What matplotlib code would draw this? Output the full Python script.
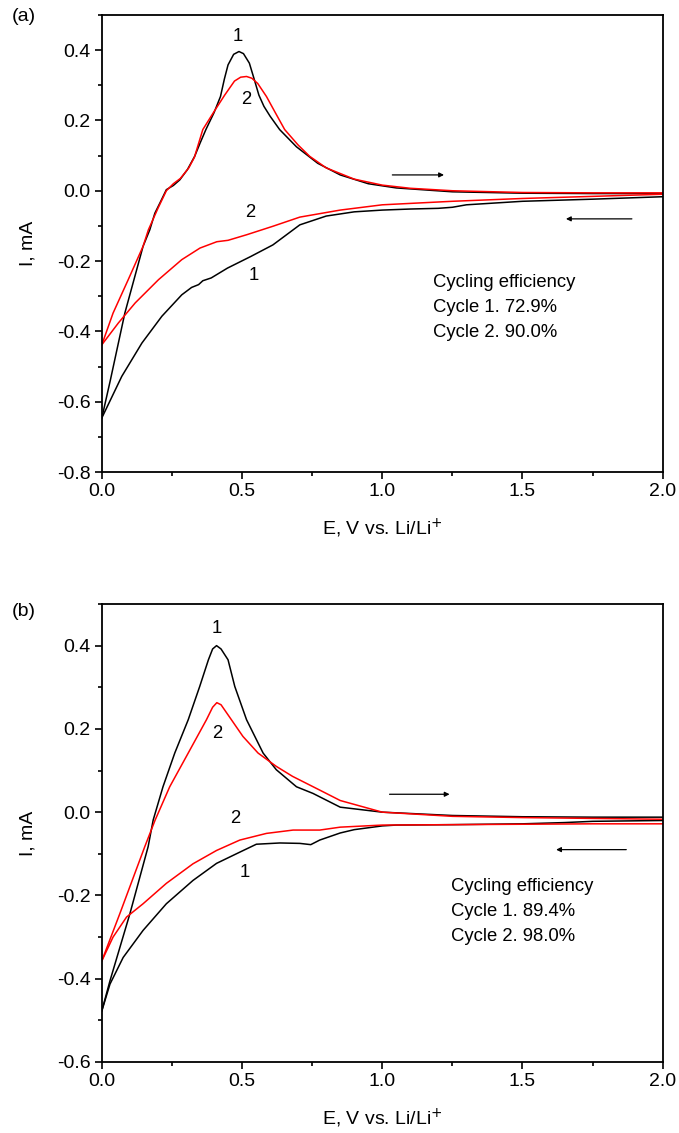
import matplotlib.pyplot as plt
from matplotlib.ticker import MultipleLocator

plt.rcParams['font.family'] = ['Liberation Sans', 'DejaVu Sans']

# ---- panel (a): current (mA) vs potential (V) ----
a_c1_ox_E = [0.0, 0.03, 0.082, 0.147, 0.171, 0.189, 0.21, 0.23, 0.255, 0.278,
             0.305, 0.331, 0.35, 0.371, 0.40, 0.423, 0.437, 0.45, 0.47, 0.489,
             0.505, 0.526, 0.543, 0.56, 0.578, 0.60, 0.634, 0.694, 0.77, 0.85,
             0.95, 1.05, 1.25, 1.50, 1.75, 2.00]
a_c1_ox_I = [-0.646, -0.54, -0.348, -0.158, -0.111, -0.064, -0.03, 0.003,
             0.015, 0.031, 0.06, 0.098, 0.135, 0.174, 0.222, 0.268, 0.318,
             0.358, 0.388, 0.396, 0.39, 0.363, 0.318, 0.272, 0.24, 0.212,
             0.174, 0.125, 0.078, 0.045, 0.02, 0.008, -0.003, -0.007, -0.008,
             -0.008]
a_c1_red_E = [2.00, 1.75, 1.50, 1.30, 1.25, 1.20, 1.10, 1.00, 0.90, 0.80,
              0.706, 0.61, 0.531, 0.448, 0.39, 0.36, 0.345, 0.32, 0.285,
              0.214, 0.143, 0.071, 0.0]
a_c1_red_I = [-0.017, -0.024, -0.03, -0.04, -0.047, -0.05, -0.052, -0.055,
              -0.06, -0.072, -0.097, -0.154, -0.187, -0.22, -0.248, -0.256,
              -0.267, -0.275, -0.296, -0.357, -0.433, -0.528, -0.646]

a_c2_ox_E = [0.0, 0.04, 0.094, 0.147, 0.166, 0.2, 0.23, 0.255, 0.28, 0.31,
             0.33, 0.36, 0.40, 0.438, 0.473, 0.495, 0.516, 0.535, 0.556,
             0.587, 0.62, 0.652, 0.70, 0.741, 0.80, 0.90, 1.00, 1.10, 1.25,
             1.50, 1.75, 2.00]
a_c2_ox_I = [-0.438, -0.348, -0.253, -0.158, -0.111, -0.05, 0.0, 0.02, 0.035,
             0.065, 0.095, 0.174, 0.225, 0.272, 0.312, 0.323, 0.325, 0.32,
             0.305, 0.268, 0.22, 0.174, 0.13, 0.098, 0.065, 0.033, 0.016,
             0.007, 0.0, -0.005, -0.006, -0.006]
a_c2_red_E = [2.00, 1.75, 1.50, 1.25, 1.00, 0.85, 0.706, 0.61, 0.517, 0.45,
              0.41, 0.35, 0.285, 0.202, 0.119, 0.059, 0.0]
a_c2_red_I = [-0.01, -0.016, -0.022, -0.03, -0.04, -0.055, -0.075, -0.101,
              -0.125, -0.141, -0.145, -0.163, -0.196, -0.253, -0.319, -0.376,
              -0.438]

# ---- panel (b) ----
b_c1_ox_E = [0.0, 0.029, 0.1, 0.165, 0.183, 0.218, 0.26, 0.308, 0.349, 0.38,
             0.395, 0.409, 0.425, 0.45, 0.474, 0.516, 0.575, 0.622, 0.694,
             0.753, 0.85, 1.00, 1.25, 1.50, 1.75, 2.00]
b_c1_ox_I = [-0.477, -0.405, -0.244, -0.083, -0.019, 0.061, 0.142, 0.222,
             0.302, 0.366, 0.392, 0.40, 0.392, 0.366, 0.302, 0.222, 0.142,
             0.102, 0.061, 0.045, 0.012, 0.0, -0.008, -0.011, -0.012, -0.012]
b_c1_red_E = [2.00, 1.75, 1.65, 1.50, 1.25, 1.05, 1.00, 0.90, 0.85, 0.777,
              0.745, 0.706, 0.635, 0.551, 0.492, 0.409, 0.325, 0.23, 0.147,
              0.076, 0.029, 0.0]
b_c1_red_I = [-0.02, -0.022, -0.025, -0.028, -0.03, -0.031, -0.033, -0.042,
              -0.05, -0.067, -0.078, -0.075, -0.074, -0.077, -0.096, -0.123,
              -0.164, -0.22, -0.284, -0.349, -0.413, -0.477]

b_c2_ox_E = [0.0, 0.064, 0.153, 0.19, 0.242, 0.308, 0.373, 0.395, 0.41, 0.425,
             0.462, 0.503, 0.557, 0.622, 0.68, 0.777, 0.85, 1.00, 1.25, 1.50,
             1.75, 2.00]
b_c2_ox_I = [-0.357, -0.244, -0.083, -0.019, 0.061, 0.142, 0.222, 0.252,
             0.263, 0.258, 0.222, 0.182, 0.142, 0.11, 0.086, 0.053, 0.028,
             0.0, -0.01, -0.013, -0.015, -0.017]
b_c2_red_E = [2.00, 1.75, 1.50, 1.25, 1.00, 0.85, 0.777, 0.682, 0.587, 0.492,
              0.409, 0.325, 0.23, 0.147, 0.088, 0.04, 0.0]
b_c2_red_I = [-0.028, -0.028, -0.029, -0.03, -0.031, -0.036, -0.043, -0.043,
              -0.051, -0.067, -0.092, -0.124, -0.171, -0.22, -0.252, -0.30,
              -0.357]

a_eff = ['Cycling efficiency', 'Cycle 1. 72.9%', 'Cycle 2. 90.0%']
b_eff = ['Cycling efficiency', 'Cycle 1. 89.4%', 'Cycle 2. 98.0%']

fig = plt.figure(figsize=(6.79, 11.33), dpi=100)
ax_a = fig.add_axes([0.150, 0.5834, 0.826, 0.4034])
ax_b = fig.add_axes([0.150, 0.0627, 0.826, 0.4042])

FS = 14     # ticks and axis labels
FT = 13.3   # text inside the plots


def style_axis(ax, ymin, ymax):
    ax.set_xlim(0.0, 2.0)
    ax.set_ylim(ymin, ymax)
    ax.xaxis.set_major_locator(MultipleLocator(0.5))
    ax.xaxis.set_minor_locator(MultipleLocator(0.25))
    ax.yaxis.set_major_locator(MultipleLocator(0.2))
    ax.yaxis.set_minor_locator(MultipleLocator(0.1))
    ax.xaxis.set_major_formatter(plt.FormatStrFormatter('%.1f'))
    ax.yaxis.set_major_formatter(plt.FormatStrFormatter('%.1f'))
    ax.tick_params(which='both', direction='out', top=False, right=False,
                   labelsize=FS, width=1.2, pad=3)
    ax.tick_params(which='major', length=5)
    ax.tick_params(which='minor', length=3)
    for s in ax.spines.values():
        s.set_linewidth(1.3)
    ax.set_xlabel(r'E, V vs. Li/Li$^{+}$', fontsize=FS, labelpad=12)
    ax.set_ylabel('I, mA', fontsize=FS, labelpad=15)


#
# panel (a)
#
ax_a.plot(a_c1_ox_E, a_c1_ox_I, color='black', lw=1.1)
ax_a.plot(a_c1_red_E, a_c1_red_I, color='black', lw=1.1)
ax_a.plot(a_c2_ox_E, a_c2_ox_I, color='red', lw=1.1)
ax_a.plot(a_c2_red_E, a_c2_red_I, color='red', lw=1.1)
style_axis(ax_a, -0.8, 0.5)
ax_a.text(0.485, 0.44, '1', fontsize=FT, ha='center', va='center')
ax_a.text(0.515, 0.26, '2', fontsize=FT, ha='center', va='center')
ax_a.text(0.53, -0.063, '2', fontsize=FT, ha='center', va='center')
ax_a.text(0.54, -0.24, '1', fontsize=FT, ha='center', va='center')
ax_a.annotate('', xy=(1.23, 0.045), xytext=(1.026, 0.045),
              arrowprops=dict(arrowstyle='-|>', color='black', lw=0.9,
                              mutation_scale=7))
ax_a.annotate('', xy=(1.645, -0.08), xytext=(1.9, -0.08),
              arrowprops=dict(arrowstyle='-|>', color='black', lw=0.9,
                              mutation_scale=7))
for k, s in enumerate(a_eff):
    ax_a.text(1.18, -0.26 - 0.071 * k, s, fontsize=FT, va='center')
fig.text(0.018, 0.985, '(a)', fontsize=FS, va='center')

#
# panel (b)
#
ax_b.plot(b_c1_ox_E, b_c1_ox_I, color='black', lw=1.1)
ax_b.plot(b_c1_red_E, b_c1_red_I, color='black', lw=1.1)
ax_b.plot(b_c2_ox_E, b_c2_ox_I, color='red', lw=1.1)
ax_b.plot(b_c2_red_E, b_c2_red_I, color='red', lw=1.1)
style_axis(ax_b, -0.6, 0.5)
ax_b.text(0.41, 0.44, '1', fontsize=FT, ha='center', va='center')
ax_b.text(0.41, 0.19, '2', fontsize=FT, ha='center', va='center')
ax_b.text(0.475, -0.015, '2', fontsize=FT, ha='center', va='center')
ax_b.text(0.51, -0.145, '1', fontsize=FT, ha='center', va='center')
ax_b.annotate('', xy=(1.25, 0.043), xytext=(1.016, 0.043),
              arrowprops=dict(arrowstyle='-|>', color='black', lw=0.9,
                              mutation_scale=7))
ax_b.annotate('', xy=(1.61, -0.09), xytext=(1.88, -0.09),
              arrowprops=dict(arrowstyle='-|>', color='black', lw=0.9,
                              mutation_scale=7))
for k, s in enumerate(b_eff):
    ax_b.text(1.245, -0.178 - 0.06 * k, s, fontsize=FT, va='center')
fig.text(0.018, 0.46, '(b)', fontsize=FS, va='center')

fig.savefig('out.png', dpi=100)
